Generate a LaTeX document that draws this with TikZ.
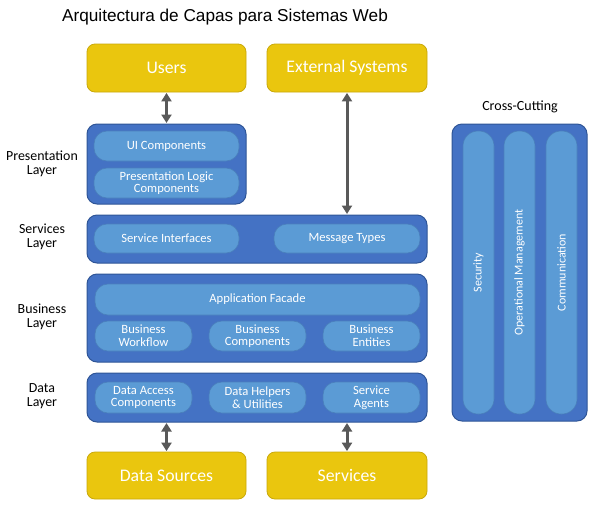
\documentclass[tikz,border=0pt]{standalone}
\usepackage{fontspec}
\setmainfont{Carlito}
\newfontfamily\titlefont{Liberation Sans}
\usetikzlibrary{arrows.meta}
\definecolor{ygold}{HTML}{EAC60E}
\definecolor{ygoldb}{HTML}{C9A90B}
\definecolor{lblue}{HTML}{4472C4}
\definecolor{lblueb}{HTML}{2F5597}
\definecolor{pblue}{HTML}{5B9BD5}
\definecolor{pblueb}{HTML}{4A80BC}
\definecolor{agray}{HTML}{595959}
\tikzset{
  ybox/.style={fill=ygold, draw=ygoldb, line width=0.8pt, rounded corners=8pt, text=white, font=\fontsize{17.7}{20}\selectfont, inner sep=0pt},
  layerbox/.style={fill=lblue, draw=lblueb, line width=1pt, rounded corners=10pt, inner sep=0pt},
  pill/.style={fill=pblue, draw=pblueb, line width=0.6pt, rounded corners=13pt, text=white, font=\fontsize{12.6}{12.6}\selectfont, align=center, inner sep=0pt},
  vpill/.style={fill=pblue, draw=pblueb, line width=0.6pt, rounded corners=15pt, text=white, font=\fontsize{12}{13}\selectfont, inner sep=0pt, rotate=90},
  lbl/.style={text=black, font=\fontsize{13.9}{13.5}\selectfont, align=center},
  arr/.style={draw=agray, line width=3pt, {Triangle[width=10pt,length=8.5pt]}-{Triangle[width=10pt,length=8.5pt]}, shorten <=0.5pt, shorten >=0.5pt},
}
\begin{document}
\begin{tikzpicture}[x=1pt,y=-1pt]
\useasboundingbox[fill=white] (0,0) rectangle (597,507);
\node[font=\titlefont\fontsize{17.2}{20}\selectfont] (title) at (225,17) {Arquitectura de Capas para Sistemas Web};

\node[ybox, minimum width=159pt, minimum height=48pt] (users) at (166.5,68) {Users};
\node[ybox, minimum width=160pt, minimum height=48pt] (ext) at (347,68) {External Systems};

\node[layerbox, minimum width=159pt, minimum height=80pt] (pres) at (166.5,164) {};
\node[pill, minimum width=145pt, minimum height=30pt] (ui) at (166.5,146) {UI Components};
\node[pill, minimum width=145pt, minimum height=30pt] (plc) at (166.5,183) {Presentation Logic\\Components};

\node[layerbox, minimum width=340pt, minimum height=48pt] (svc) at (257,239) {};
\node[pill, minimum width=145pt, minimum height=29pt] (si) at (166.5,238.5) {Service Interfaces};
\node[pill, minimum width=146pt, minimum height=29pt] (mt) at (347,238.5) {Message Types};

\node[layerbox, minimum width=340pt, minimum height=88pt] (bus) at (257,318) {};
\node[pill, minimum width=325pt, minimum height=31pt] (af) at (257.5,299.5) {Application Facade};
\node[pill, minimum width=97pt, minimum height=30pt] (bw) at (143.5,336) {Business\\Workflow};
\node[pill, minimum width=97pt, minimum height=30pt] (bc) at (257.5,336) {Business\\Components};
\node[pill, minimum width=97pt, minimum height=30pt] (be) at (371.5,336) {Business\\Entities};

\node[layerbox, minimum width=340pt, minimum height=49pt] (data) at (257,397.5) {};
\node[pill, minimum width=97pt, minimum height=31pt] (dac) at (143.5,397.5) {Data Access\\Components};
\node[pill, minimum width=97pt, minimum height=31pt] (dhu) at (257.5,397.5) {Data Helpers\\\& Utilities};
\node[pill, minimum width=97pt, minimum height=31pt] (sa) at (371.5,397.5) {Service\\Agents};

\node[ybox, minimum width=159pt, minimum height=47pt] (ds) at (166.5,475.5) {Data Sources};
\node[ybox, minimum width=160pt, minimum height=47pt] (srv) at (347,475.5) {Services};

\node[lbl] (lpres) at (42,164) {Presentation\\Layer};
\node[lbl] (lsvc) at (42,237) {Services\\Layer};
\node[lbl] (lbus) at (42,317) {Business\\Layer};
\node[lbl] (ldata) at (42,396) {Data\\Layer};

\node[lbl, font=\fontsize{14}{16}\selectfont] (lcc) at (520,107) {Cross-Cutting};
\node[layerbox, minimum width=135pt, minimum height=297pt] (cc) at (519.5,272.5) {};
\node[vpill, minimum width=283pt, minimum height=31pt] (sec) at (478.5,272.5) {Security};
\node[vpill, minimum width=283pt, minimum height=31pt] (om) at (519.5,272.5) {Operational Management};
\node[vpill, minimum width=283pt, minimum height=31pt] (com) at (561.5,272.5) {Communication};

\draw[arr] (users.south) -- (pres.north);
\draw[arr] (ext.south) -- (ext.south |- svc.north);
\draw[arr] (data.south -| ds.north) -- (ds.north);
\draw[arr] (data.south -| srv.north) -- (srv.north);
\end{tikzpicture}
\end{document}
